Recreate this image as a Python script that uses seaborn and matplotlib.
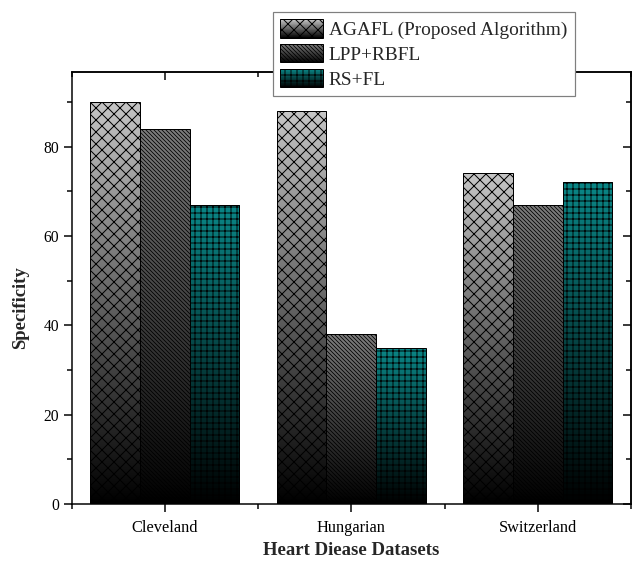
import numpy as np
import pandas as pd
import matplotlib
matplotlib.use("Agg")
import matplotlib.pyplot as plt
import seaborn as sns
from matplotlib.patches import Rectangle
from matplotlib.legend_handler import HandlerBase
from matplotlib.colors import to_rgb
from matplotlib.ticker import MultipleLocator

# ---- data ----
datasets = ["Cleveland", "Hungarian", "Switzerland"]
methods = ["AGAFL (Proposed Algorithm)", "LPP+RBFL", "RS+FL"]
agafl = [90, 88, 74]
lpp_rbfl = [84, 38, 67]
rs_fl = [67, 35, 72]
yticks = [0, 20, 40, 60, 80]

top_colors = ["#c6c6c6", "#7e7e7e", "#0a8787"]
hatches = ["xxxx", "\\" * 12, "+" * 4]
hatch_lws = [0.5, 0.4, 0.45]

df = pd.DataFrame({
    "dataset": datasets * 3,
    "method": [m for m in methods for _ in datasets],
    "value": agafl + lpp_rbfl + rs_fl,
})

sns.set_style("ticks")
plt.rcParams["font.family"] = ["Liberation Serif", "DejaVu Serif"]
plt.rcParams["hatch.linewidth"] = 0.45
plt.rcParams["axes.edgecolor"] = "black"
plt.rcParams["axes.linewidth"] = 0.75
plt.rcParams["xtick.color"] = "black"
plt.rcParams["ytick.color"] = "black"

DPI = 144
fig = plt.figure(figsize=(633 / DPI, 566 / DPI), dpi=DPI)
ax = fig.add_axes([0.1133, 0.1095, 0.8835, 0.7633])

sns.barplot(data=df, x="dataset", y="value", hue="method", order=datasets,
            hue_order=methods, palette=top_colors, saturation=1,
            edgecolor="black", linewidth=0.5, width=0.8, legend=False,
            errorbar=None, ax=ax)


def style_hatch(p, hatch, lw):
    p.set_hatch(hatch)
    if hasattr(p, "set_hatch_linewidth"):
        p.set_hatch_linewidth(lw)


# gradient fill (colour at top to black at bottom) + hatch
for cont, col, hat, hlw in zip(ax.containers, top_colors, hatches, hatch_lws):
    c = np.array(to_rgb(col))
    for bar in cont:
        x, w, h = bar.get_x(), bar.get_width(), bar.get_height()
        grad = np.linspace(0, 1, 256)[:, None, None] * c[None, None, :]
        im = ax.imshow(grad, extent=[x, x + w, 0, h], origin="lower",
                       aspect="auto", interpolation="bilinear",
                       zorder=bar.get_zorder() - 0.1)
        im.set_clip_path(bar)
        bar.set_facecolor("none")
        bar.set_edgecolor("black")
        style_hatch(bar, hat, hlw)

ax.set_xlim(-0.5, 2.5)
ax.set_ylim(0, 96.7)
ax.set_aspect("auto")

ax.set_xticks([0, 1, 2], datasets)
ax.set_xticks([-0.5, 0.5, 1.5, 2.5], minor=True)
ax.set_yticks(yticks)
ax.yaxis.set_minor_locator(MultipleLocator(10))
ax.tick_params(axis="x", which="major", direction="out", length=3.85, width=0.75,
               pad=4, labelsize=8.2)
ax.tick_params(axis="x", which="minor", direction="out", length=2.3, width=0.75)
ax.tick_params(axis="y", which="major", direction="out", length=3.85, width=0.75,
               pad=2.5, labelsize=7.8)
ax.tick_params(axis="y", which="minor", direction="out", length=2.3, width=0.75)
for s in ax.spines.values():
    s.set_visible(True)
    s.set_linewidth(0.75)

sec_y = ax.secondary_yaxis("right")
sec_y.set_yticks(yticks)
sec_y.yaxis.set_minor_locator(MultipleLocator(10))
sec_y.tick_params(which="major", direction="in", length=3.85, width=0.75, labelright=False)
sec_y.tick_params(which="minor", direction="in", length=2.3, width=0.75)

sec_x = ax.secondary_xaxis("top")
sec_x.set_xticks([0, 1, 2])
sec_x.set_xticks([-0.5, 0.5, 1.5, 2.5], minor=True)
sec_x.tick_params(which="major", direction="in", length=3.85, width=0.75, labeltop=False)
sec_x.tick_params(which="minor", direction="in", length=2.3, width=0.75)

ax.set_ylabel("Specificity", fontsize=9.4, fontweight="bold")
ax.yaxis.set_label_coords(-0.076, 0.455)
ax.set_xlabel("Heart Diease Datasets", fontsize=9.4, fontweight="bold")
ax.xaxis.set_label_coords(0.5, -0.088)


class GradHandler(HandlerBase):
    def __init__(self, color, hatch, hlw):
        super().__init__()
        self.color = np.array(to_rgb(color))
        self.hatch = hatch
        self.hlw = hlw

    def create_artists(self, legend, orig_handle, xdescent, ydescent, width,
                       height, fontsize, trans):
        arts = []
        n = 30
        for i in range(n):
            f = (i + 0.5) / n
            r = Rectangle((-xdescent, -ydescent + i * height / n), width,
                          height / n * 1.05, facecolor=self.color * f,
                          edgecolor="none", transform=trans)
            arts.append(r)
        top = Rectangle((-xdescent, -ydescent), width, height, facecolor="none",
                        edgecolor="black", linewidth=0.5, transform=trans)
        style_hatch(top, self.hatch, self.hlw)
        arts.append(top)
        return arts


handles = [Rectangle((0, 0), 1, 1) for _ in methods]
hmap = {h: GradHandler(c, ht, lw)
        for h, c, ht, lw in zip(handles, top_colors, hatches, hatch_lws)}
leg = fig.legend(handles, methods, handler_map=hmap, loc="upper left",
                 bbox_to_anchor=(273 / 633, 1 - 12 / 566),
                 bbox_transform=fig.transFigure, borderaxespad=0,
                 frameon=True, fancybox=False, edgecolor="#7f7f7f",
                 framealpha=1, fontsize=9.7, handlelength=2.2, handleheight=1.08,
                 labelspacing=0.25, handletextpad=0.3, borderpad=0.38)
leg.get_frame().set_linewidth(0.6)

fig.savefig("out.png", dpi=DPI)
